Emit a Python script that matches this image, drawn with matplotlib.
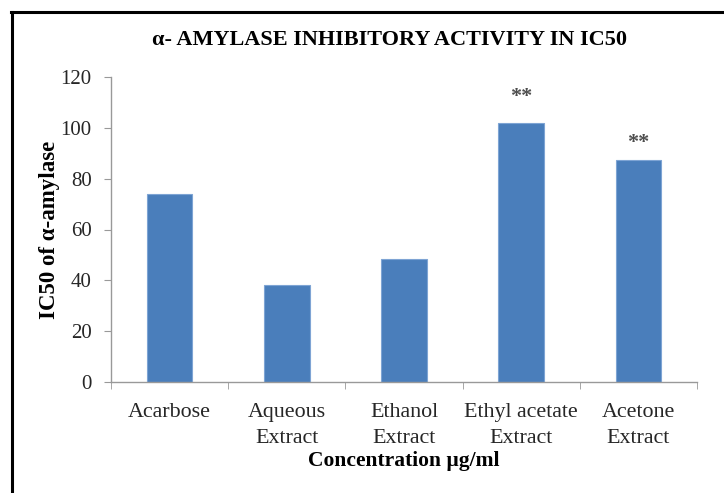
import matplotlib
matplotlib.use('Agg')
import matplotlib.pyplot as plt
from matplotlib.lines import Line2D
import numpy as np

# Data
categories = ['Acarbose', 'Aqueous\nExtract', 'Ethanol\nExtract',
              'Ethyl acetate\nExtract', 'Acetone\nExtract']
ic50 = [74, 38, 48.5, 102, 87.5]
signif = ['', '', '', '**', '**']
signif_y = [0, 0, 0, 112, 94]
yticks = [0, 20, 40, 60, 80, 100, 120]

plt.rcParams['font.family'] = ['Liberation Serif', 'DejaVu Serif']

fig = plt.figure(figsize=(7.24, 4.93), dpi=100)
ax = fig.add_axes([111 / 724, 1 - 382 / 493, 586 / 724, 305 / 493])

x = np.arange(len(categories))
ax.bar(x, ic50, width=0.39, color='#4a7ebb', edgecolor='#7ea4d4',
       linewidth=0.8, zorder=2)

# Significance stars above bars
for xi, sy, s in zip(x, signif_y, signif):
    if s:
        ax.text(xi, sy, s, ha='center', va='center', fontsize=16,
                fontweight='bold', color='#4d4d4d')

ax.set_xlim(-0.5, len(categories) - 0.5)
ax.set_ylim(0, 120)
ax.set_yticks(yticks)
ax.tick_params(axis='y', labelsize=15, length=5, color='#999999',
               labelcolor='#262626', direction='out', pad=9)

ax.set_xticks(x)
ax.set_xticklabels(categories, fontsize=15.8, linespacing=1.5)
ax.tick_params(axis='x', which='major', length=0, pad=15,
               labelcolor='#262626')
ax.set_xticks(np.arange(-0.5, len(categories)), minor=True)
ax.tick_params(axis='x', which='minor', length=5, color='#999999',
               direction='out')

for side in ['top', 'right']:
    ax.spines[side].set_visible(False)
for side in ['left', 'bottom']:
    ax.spines[side].set_color('#999999')
    ax.spines[side].set_linewidth(1.0)

ax.set_xlabel('Concentration \u00b5g/ml', fontsize=15.5, fontweight='bold',
              labelpad=2)
ax.set_ylabel('IC50 of \u03b1-amylase', fontsize=16.5, fontweight='bold',
              labelpad=0.5)

fig.text(390 / 724, 1 - 40 / 493, '\u03b1- AMYLASE INHIBITORY ACTIVITY IN IC50',
         ha='center', va='center', fontsize=16, fontweight='bold')

# Frame lines around the picture
fig.add_artist(Line2D([11 / 724, 1], [1 - 12 / 493, 1 - 12 / 493],
                      transform=fig.transFigure, color='black', lw=2.2))
fig.add_artist(Line2D([12 / 724, 12 / 724], [0, 1 - 12 / 493],
                      transform=fig.transFigure, color='black', lw=2.2))

fig.savefig('out.png', dpi=100)
